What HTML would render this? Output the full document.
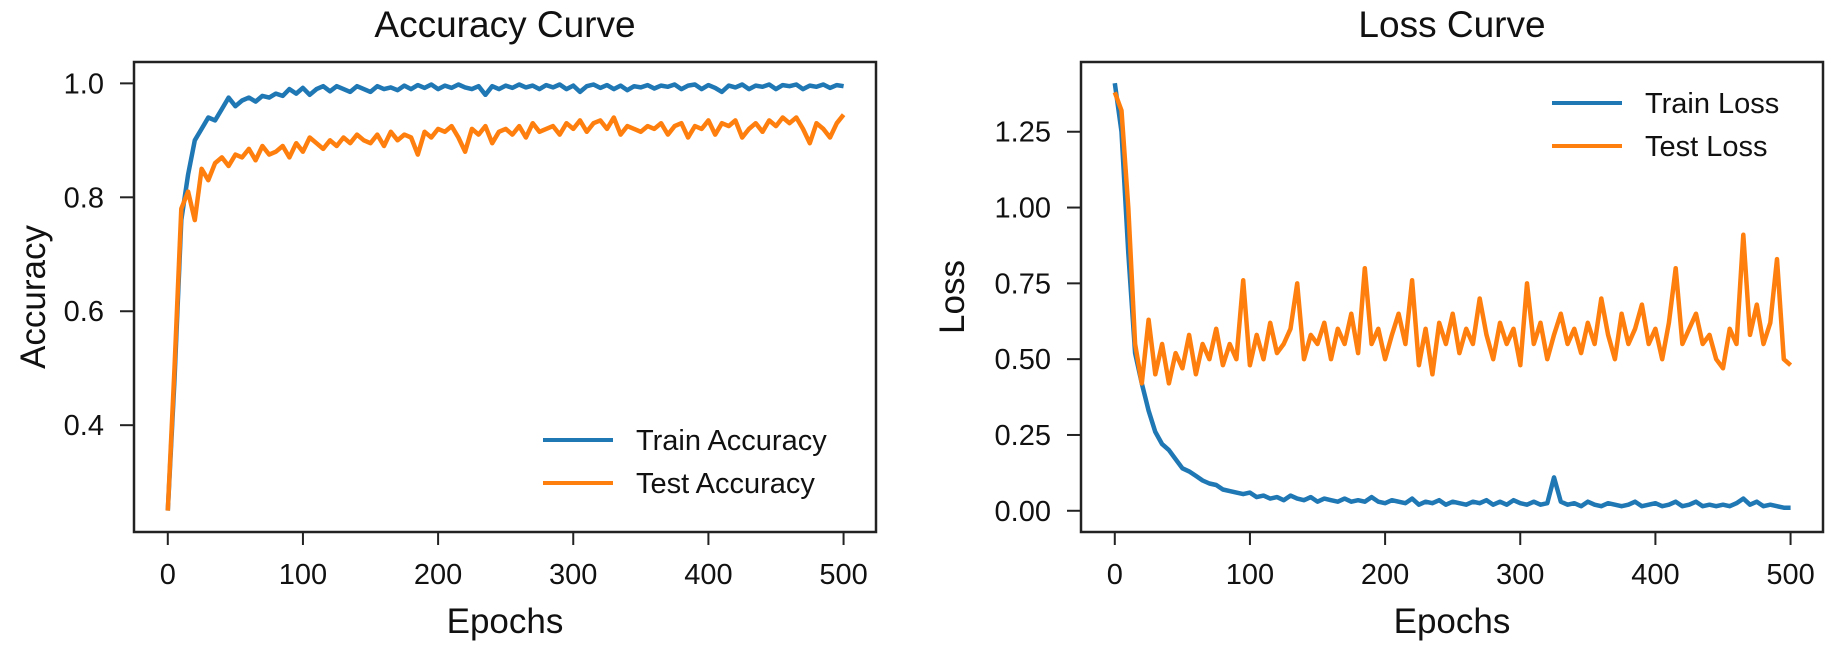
<!DOCTYPE html>
<html><head><meta charset="utf-8"><style>
body{margin:0;background:#fff;}
svg{display:block;font-family:"Liberation Sans",Arial,sans-serif;}
</style></head><body>
<svg id="fig" width="1831" height="650" viewBox="0 0 1831 650"></svg>
<script>
const epochs = [];
for (let e = 0; e <= 500; e += 5) epochs.push(e);
const trainAcc = [0.25,0.48,0.76,0.84,0.90,0.92,0.94,0.935,0.955,0.975,
0.96,0.97,0.975,0.968,0.978,0.975,0.982,0.978,0.99,0.982,
0.992,0.98,0.99,0.995,0.986,0.995,0.99,0.985,0.995,0.99,
0.985,0.995,0.99,0.993,0.988,0.996,0.99,0.997,0.992,0.998,
0.99,0.996,0.992,0.998,0.993,0.99,0.995,0.98,0.995,0.99,
0.996,0.992,0.998,0.993,0.996,0.99,0.997,0.993,0.998,0.99,
0.996,0.985,0.995,0.998,0.992,0.997,0.99,0.996,0.988,0.995,
0.993,0.997,0.991,0.996,0.994,0.998,0.99,0.996,0.998,0.99,
0.997,0.992,0.985,0.996,0.993,0.998,0.99,0.996,0.994,0.998,
0.99,0.997,0.995,0.998,0.99,0.996,0.994,0.998,0.992,0.997,0.995];
const testAcc = [0.25,0.50,0.78,0.81,0.76,0.85,0.83,0.86,0.87,0.855,
0.875,0.87,0.885,0.865,0.89,0.875,0.88,0.89,0.87,0.895,
0.88,0.905,0.895,0.885,0.90,0.89,0.905,0.895,0.91,0.90,
0.895,0.91,0.89,0.915,0.90,0.91,0.905,0.875,0.915,0.905,
0.92,0.915,0.925,0.905,0.88,0.92,0.91,0.925,0.895,0.915,
0.92,0.91,0.925,0.905,0.93,0.915,0.92,0.925,0.91,0.93,
0.92,0.935,0.915,0.93,0.935,0.92,0.94,0.91,0.925,0.92,
0.915,0.925,0.92,0.93,0.91,0.925,0.93,0.905,0.925,0.92,
0.935,0.91,0.93,0.925,0.935,0.905,0.92,0.93,0.915,0.935,
0.925,0.94,0.93,0.94,0.92,0.895,0.93,0.92,0.905,0.93,0.945];
const trainLoss = [1.41,1.25,0.85,0.52,0.42,0.33,0.26,0.22,0.2,0.17,
0.14,0.13,0.115,0.10,0.09,0.085,0.07,0.065,0.06,0.055,
0.06,0.045,0.05,0.04,0.045,0.035,0.05,0.04,0.035,0.045,
0.03,0.04,0.035,0.03,0.04,0.03,0.035,0.03,0.045,0.03,
0.025,0.035,0.03,0.025,0.04,0.02,0.03,0.025,0.035,0.02,
0.03,0.025,0.02,0.03,0.025,0.035,0.02,0.03,0.02,0.035,
0.025,0.02,0.03,0.02,0.025,0.11,0.03,0.02,0.025,0.015,
0.03,0.02,0.015,0.025,0.02,0.015,0.02,0.03,0.015,0.02,
0.025,0.015,0.02,0.03,0.015,0.02,0.03,0.015,0.02,0.015,
0.02,0.015,0.025,0.04,0.02,0.03,0.015,0.02,0.015,0.01,0.01];
const testLoss = [1.38,1.32,1.0,0.55,0.42,0.63,0.45,0.55,0.42,0.52,
0.47,0.58,0.45,0.55,0.5,0.6,0.48,0.55,0.5,0.76,
0.48,0.58,0.5,0.62,0.52,0.55,0.6,0.75,0.5,0.58,
0.55,0.62,0.5,0.6,0.55,0.65,0.52,0.8,0.55,0.6,
0.5,0.58,0.65,0.55,0.76,0.48,0.6,0.45,0.62,0.55,
0.65,0.52,0.6,0.55,0.7,0.58,0.5,0.62,0.55,0.6,
0.48,0.75,0.55,0.62,0.5,0.58,0.65,0.55,0.6,0.52,
0.62,0.55,0.7,0.58,0.5,0.65,0.55,0.6,0.68,0.55,
0.6,0.5,0.62,0.8,0.55,0.6,0.65,0.55,0.58,0.5,
0.47,0.6,0.55,0.91,0.58,0.68,0.55,0.62,0.83,0.5,0.48];
const xTicks = [0,100,200,300,400,500];
const accTicks = [0.4,0.6,0.8,1.0];
const accTickLabels = ["0.4","0.6","0.8","1.0"];
const lossTicks = [0,0.25,0.5,0.75,1.0,1.25];
const lossTickLabels = ["0.00","0.25","0.50","0.75","1.00","1.25"];

const NS = "http://www.w3.org/2000/svg";
const svg = document.getElementById("fig");
function mk(tag, attrs, parent){
  const el = document.createElementNS(NS, tag);
  for (const k in attrs) el.setAttribute(k, attrs[k]);
  (parent||svg).appendChild(el);
  return el;
}
function panel(cfg){
  const g = mk("g", {});
  
  
  const sx = v => cfg.x0 + (v - cfg.xmin) / (cfg.xmax - cfg.xmin) * (cfg.x1 - cfg.x0);
  const sy = v => cfg.y1 - (v - cfg.ymin) / (cfg.ymax - cfg.ymin) * (cfg.y1 - cfg.y0);
  cfg.series.forEach(s => {
    const d = s.vals.map((v,i) => (i ? "L" : "M") + sx(epochs[i]).toFixed(1) + "," + sy(v).toFixed(1)).join("");
    const p = mk("path", {d: d, fill: "none", stroke: s.color, "stroke-width": 4.5, "stroke-linejoin": "round"}, g);
    
    
  });
  const fr = mk("rect", {x: cfg.x0, y: cfg.y0, width: cfg.x1 - cfg.x0, height: cfg.y1 - cfg.y0, fill: "none", stroke: "#222", "stroke-width": 2.5}, g);
  
  
  xTicks.forEach(t => {
    const x = sx(t);
    mk("line", {x1: x, x2: x, y1: cfg.y1, y2: cfg.y1 + 13, stroke: "#222", "stroke-width": 2}, g);
    const tx = mk("text", {x: x, y: 584, "text-anchor": "middle", "font-size": 29, fill: "#111"}, g);
    tx.textContent = t;
    
    
  });
  cfg.yTicks.forEach((t, i) => {
    const y = sy(t);
    mk("line", {x1: cfg.x0 - 14, x2: cfg.x0, y1: y, y2: y, stroke: "#222", "stroke-width": 2}, g);
    const tx = mk("text", {x: cfg.x0 - 30, y: y + 10, "text-anchor": "end", "font-size": 29, fill: "#111"}, g);
    tx.textContent = cfg.yLabels[i];
    
    
  });
  const cx = (cfg.x0 + cfg.x1) / 2;
  const ti = mk("text", {x: cx, y: 37, "text-anchor": "middle", "font-size": 37, fill: "#111"}, g);
  ti.textContent = cfg.title;
  
  
  const xl = mk("text", {x: cx, y: 633, "text-anchor": "middle", "font-size": 35, fill: "#111"}, g);
  xl.textContent = "Epochs";
  
  
  const cy = (cfg.y0 + cfg.y1) / 2;
  const yl = mk("text", {x: cfg.ylx, y: cy, "text-anchor": "middle", "font-size": 35, fill: "#111", transform: "rotate(-90 " + cfg.ylx + " " + cy + ")"}, g);
  yl.textContent = cfg.ylabel;
  
  
  cfg.series.forEach((s, i) => {
    const ly = cfg.legY + i * 43;
    const lg = mk("g", {}, g);
    
    
    mk("line", {x1: cfg.legX, x2: cfg.legX + 70, y1: ly, y2: ly, stroke: s.color, "stroke-width": 4}, lg);
    const t = mk("text", {x: cfg.legX + 93, y: ly + 10, "font-size": 29, fill: "#111"}, lg);
    t.textContent = s.label;
  });
}
panel({name: "accuracy-chart", x0: 134, x1: 876, y0: 62, y1: 532, xmin: -25, xmax: 524,
  ymin: 0.2125, ymax: 1.0375, yTicks: accTicks, yLabels: accTickLabels,
  title: "Accuracy Curve", ylabel: "Accuracy", ylx: 45, legX: 543, legY: 440,
  series: [{id: "train-accuracy", vals: trainAcc, color: "#1f77b4", label: "Train Accuracy"},
           {id: "test-accuracy", vals: testAcc, color: "#ff7f0e", label: "Test Accuracy"}]});
panel({name: "loss-chart", x0: 1081, x1: 1823, y0: 62, y1: 532, xmin: -25, xmax: 524,
  ymin: -0.07, ymax: 1.48, yTicks: lossTicks, yLabels: lossTickLabels,
  title: "Loss Curve", ylabel: "Loss", ylx: 964, legX: 1552, legY: 103,
  series: [{id: "train-loss", vals: trainLoss, color: "#1f77b4", label: "Train Loss"},
           {id: "test-loss", vals: testLoss, color: "#ff7f0e", label: "Test Loss"}]});
</script>
</body></html>
